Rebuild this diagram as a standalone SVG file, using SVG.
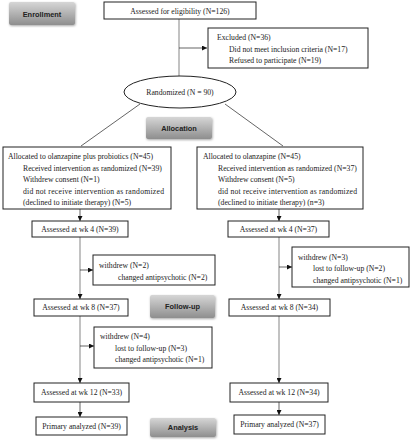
<svg xmlns="http://www.w3.org/2000/svg" width="412" height="440" viewBox="0 0 412 440">
<style>
.bx{fill:#fff;stroke:#222;stroke-width:1}
.t{font-family:"Liberation Serif","Times New Roman",serif;font-size:7.7px;fill:#222}
.c{text-anchor:middle}
.st{fill:url(#g);filter:url(#sh)}
.sl{font-family:"Liberation Sans",Arial,sans-serif;font-size:7.4px;font-weight:bold;fill:#222;text-anchor:middle}
.trunk{stroke:#a8a8a8;stroke-width:1.4;fill:none}
.ln{stroke:#222;stroke-width:0.7;fill:none}
</style>
<defs>
<linearGradient id="g" x1="0" y1="0" x2="0" y2="1">
<stop offset="0" stop-color="#d6d6d6"/>
<stop offset="1" stop-color="#8e8e8e"/>
</linearGradient>
<filter id="sh" x="-10%" y="-20%" width="130%" height="160%">
<feDropShadow dx="0.6" dy="1" stdDeviation="0.8" flood-color="#000" flood-opacity="0.35"/>
</filter>
<marker id="ar" viewBox="0 0 6 6" refX="6" refY="3" markerWidth="5" markerHeight="5" orient="auto" markerUnits="userSpaceOnUse">
<path d="M0,0 L6,3 L0,6 z" fill="#111"/>
</marker>
</defs>

<g id="connectors">
<line class="trunk" x1="179" y1="19" x2="179" y2="76"/>
<line class="ln" x1="179" y1="48" x2="207" y2="48" marker-end="url(#ar)"/>
<line class="ln" x1="140" y1="104" x2="81" y2="146"/>
<line class="ln" x1="225" y1="104" x2="283" y2="146"/>
<line class="ln" x1="80" y1="209" x2="80" y2="221" marker-end="url(#ar)"/>
<line class="ln" x1="279" y1="209" x2="279" y2="221" marker-end="url(#ar)"/>
<line class="trunk" x1="80" y1="237" x2="80" y2="294"/>
<line class="ln" x1="80" y1="294" x2="80" y2="299" marker-end="url(#ar)"/>
<line class="ln" x1="80" y1="270" x2="93" y2="270" marker-end="url(#ar)"/>
<line class="trunk" x1="279" y1="237" x2="279" y2="294"/>
<line class="ln" x1="279" y1="294" x2="279" y2="299" marker-end="url(#ar)"/>
<line class="ln" x1="279" y1="267" x2="292" y2="267" marker-end="url(#ar)"/>
<line class="trunk" x1="80" y1="316" x2="80" y2="378"/>
<line class="ln" x1="80" y1="378" x2="80" y2="383" marker-end="url(#ar)"/>
<line class="ln" x1="80" y1="346" x2="94" y2="346" marker-end="url(#ar)"/>
<line class="trunk" x1="279" y1="316" x2="279" y2="378"/>
<line class="ln" x1="279" y1="378" x2="279" y2="383" marker-end="url(#ar)"/>
<line class="ln" x1="80" y1="402" x2="80" y2="417" marker-end="url(#ar)"/>
<line class="ln" x1="279" y1="402" x2="279" y2="415" marker-end="url(#ar)"/>
</g>

<g id="stage-enrollment">
<rect class="st" x="9" y="2" width="66" height="23" rx="2"/>
<text class="sl" x="42" y="16.5">Enrollment</text>
</g>
<g id="stage-allocation">
<rect class="st" x="146" y="117" width="66" height="22" rx="2"/>
<text class="sl" x="179" y="130.5">Allocation</text>
</g>
<g id="stage-followup">
<rect class="st" x="150" y="295" width="65" height="23" rx="2"/>
<text class="sl" x="182.5" y="308.5">Follow-up</text>
</g>
<g id="stage-analysis">
<rect class="st" x="150" y="418" width="66" height="19" rx="2"/>
<text class="sl" x="183" y="430">Analysis</text>
</g>

<g id="assessed">
<rect class="bx" x="104" y="2" width="152" height="17"/>
<text class="t c" x="180" y="13.5">Assessed for eligibility (N=126)</text>
</g>
<g id="excluded">
<rect class="bx" x="208" y="28" width="160" height="40"/>
<text class="t" x="217" y="39.5">Excluded (N=36)</text>
<text class="t" x="229" y="51.5">Did not meet inclusion criteria (N=17)</text>
<text class="t" x="229" y="63">Refused to participate (N=19)</text>
</g>
<g id="randomized">
<ellipse cx="180" cy="92" rx="56" ry="16" fill="#fff" stroke="#222" stroke-width="1"/>
<text class="t c" x="180" y="95">Randomized (N = 90)</text>
</g>

<g id="alloc-left">
<rect class="bx" x="3" y="147" width="168" height="62"/>
<text class="t" x="8" y="158.5">Allocated to olanzapine plus probiotics (N=45)</text>
<text class="t" x="23" y="170.5">Received intervention as randomized (N=39)</text>
<text class="t" x="23" y="182">Withdrew consent (N=1)</text>
<text class="t" x="23" y="193.5" textLength="141" lengthAdjust="spacing">did not receive intervention as randomized</text>
<text class="t" x="23" y="205">(declined to initiate therapy) (N=5)</text>
</g>
<g id="alloc-right">
<rect class="bx" x="197" y="147" width="166" height="62"/>
<text class="t" x="203" y="158.5">Allocated to olanzapine (N=45)</text>
<text class="t" x="218" y="170.5">Received intervention as randomized (N=37)</text>
<text class="t" x="218" y="182">Withdrew consent (N=5)</text>
<text class="t" x="218" y="193.5" textLength="139" lengthAdjust="spacing">did not receive intervention as randomized</text>
<text class="t" x="218" y="205">(declined to initiate therapy) (n=3)</text>
</g>

<g id="wk4-left">
<rect class="bx" x="32" y="221" width="96" height="16"/>
<text class="t c" x="80" y="231.8">Assessed at wk 4 (N=39)</text>
</g>
<g id="wk4-right">
<rect class="bx" x="228" y="221" width="101" height="16"/>
<text class="t c" x="278.5" y="231.8">Assessed at wk 4 (N=37)</text>
</g>
<g id="withdrew-left-1">
<rect class="bx" x="93" y="255" width="122" height="30"/>
<text class="t" x="99" y="267.5">withdrew (N=2)</text>
<text class="t" x="118" y="279.5">changed antipsychotic (N=2)</text>
</g>
<g id="withdrew-right-1">
<rect class="bx" x="292" y="247" width="117" height="40"/>
<text class="t" x="298" y="259.5">withdrew (N=3)</text>
<text class="t" x="313" y="271">lost to follow-up (N=2)</text>
<text class="t" x="313" y="282.5">changed antipsychotic (N=1)</text>
</g>
<g id="wk8-left">
<rect class="bx" x="34" y="299" width="94" height="17"/>
<text class="t c" x="81" y="310.3">Assessed at wk 8 (N=37)</text>
</g>
<g id="wk8-right">
<rect class="bx" x="229" y="299" width="101" height="17"/>
<text class="t c" x="279.5" y="310.3">Assessed at wk 8 (N=34)</text>
</g>
<g id="withdrew-left-2">
<rect class="bx" x="94" y="327" width="118" height="41"/>
<text class="t" x="100" y="338.5">withdrew (N=4)</text>
<text class="t" x="115" y="350.5">lost to follow-up (N=3)</text>
<text class="t" x="115" y="362">changed antipsychotic (N=1)</text>
</g>
<g id="wk12-left">
<rect class="bx" x="34" y="383" width="95" height="19"/>
<text class="t c" x="81.5" y="395.3">Assessed at wk 12 (N=33)</text>
</g>
<g id="wk12-right">
<rect class="bx" x="230" y="383" width="98" height="19"/>
<text class="t c" x="279" y="395.3">Assessed at wk 12 (N=34)</text>
</g>
<g id="primary-left">
<rect class="bx" x="36" y="417" width="91" height="18"/>
<text class="t c" x="81.5" y="428.8">Primary analyzed (N=39)</text>
</g>
<g id="primary-right">
<rect class="bx" x="234" y="415" width="91" height="19"/>
<text class="t c" x="279.5" y="427.3">Primary analyzed (N=37)</text>
</g>
</svg>
